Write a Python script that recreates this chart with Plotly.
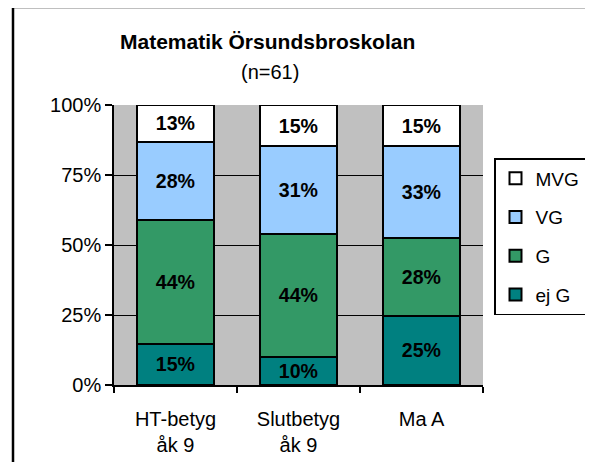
import plotly.graph_objects as go

categories = ["HT-betyg<br>åk 9", "Slutbetyg<br>åk 9", "Ma A"]
n_total = 61
ej_g = [9, 6, 15]
g = [27, 27, 17]
vg = [17, 19, 20]
mvg = [8, 9, 9]
series_names = ["ej G", "G", "VG", "MVG"]
series_colors = ["#008080", "#339966", "#99CCFF", "#FFFFFF"]
legend_ranks = [4, 3, 2, 1]
y_ticks = [0, 25, 50, 75, 100]
y_tick_labels = ["0%", "25%", "50%", "75%", "100%"]

FONT = "Liberation Sans, Arial"
W, H = 593, 462
OFF = 8  # page body offset
# target plot area in screenshot pixels
PX0, PX1, PY0, PY1 = 114, 483, 105, 385
pw, ph = PX1 - PX0, PY1 - PY0
L, T = PX0 - OFF, PY0 - OFF
R, B = W - L - pw, H - T - ph


def px_x(x):
    return (x - PX0) / pw


def px_y(y):
    return (PY1 - y) / ph


fig = go.Figure()
for name, vals, col, rank in zip(series_names, [ej_g, g, vg, mvg], series_colors, legend_ranks):
    pct = [v / n_total * 100 for v in vals]
    fig.add_trace(go.Bar(
        x=categories, y=pct, name=name, legendgroup=name, legendrank=rank,
        marker=dict(color=col, line=dict(color="black", width=2)),
        text=[f"{p:.0f}%" for p in pct], textposition="inside",
        insidetextanchor="middle",
        textfont=dict(family=FONT, size=20, color="black", weight="bold"),
        hoverinfo="skip",
    ))

fig.update_layout(
    width=W, height=H,
    margin=dict(l=L, r=R, t=T, b=B, autoexpand=False),
    barmode="stack", bargap=0.37,
    paper_bgcolor="white", plot_bgcolor="#C0C0C0",
    font=dict(family=FONT, size=20, color="black"),
    showlegend=True,
    legend=dict(
        x=px_x(494), y=px_y(158), xanchor="left", yanchor="top",
        bgcolor="white", bordercolor="black", borderwidth=1.5,
        traceorder="grouped", tracegroupgap=11,
        font=dict(size=19), itemwidth=30,
    ),
    uniformtext=dict(mode="show", minsize=10),
)
fig.update_yaxes(
    range=[0, 100], tickvals=y_ticks, ticktext=y_tick_labels,
    showgrid=True, gridcolor="black", gridwidth=1,
    showline=True, linecolor="black", linewidth=1.5,
    ticks="outside", ticklen=7, tickcolor="black", tickwidth=1.5,
    tickfont=dict(size=20), zeroline=False,
)
fig.update_xaxes(
    showline=True, linecolor="black", linewidth=1.5,
    ticks="outside", ticklen=6, tickcolor="black", tickwidth=1.5,
    tickson="boundaries", tickfont=dict(size=20),
    ticklabelstandoff=15,
)

fig.add_annotation(
    text="<b>Matematik Örsundsbroskolan</b>", xref="paper", yref="paper",
    x=px_x(267), y=px_y(42), showarrow=False,
    font=dict(size=21), xanchor="center", yanchor="middle",
)
fig.add_annotation(
    text="(n=61)", xref="paper", yref="paper",
    x=px_x(270), y=px_y(72), showarrow=False,
    font=dict(size=20), xanchor="center", yanchor="middle",
)
fig.add_shape(
    type="rect", xref="paper", yref="paper",
    x0=px_x(13), x1=px_x(W + 30),
    y0=px_y(H + 30), y1=px_y(7),
    line=dict(color="black", width=2.5), fillcolor="rgba(0,0,0,0)", layer="above",
)

fig.write_html("out.html")
